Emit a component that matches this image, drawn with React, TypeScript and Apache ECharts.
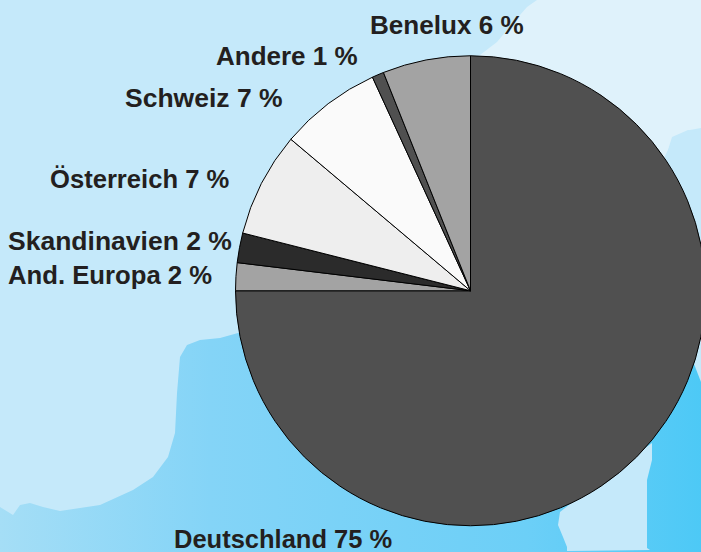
import React, { useEffect, useRef } from "react";
import * as echarts from "echarts";

const categories = ["Deutschland", "And. Europa", "Skandinavien", "Österreich", "Schweiz", "Andere", "Benelux"];
const printedShares = [75, 2, 2, 7, 7, 1, 6];
const shares = [75, 1.91, 2.04, 7.2, 7, 0.81, 6.04];
const sliceColors = ["#505050", "#a3a3a3", "#2b2b2b", "#eeeeee", "#fafafa", "#505050", "#a3a3a3"];
const labelLeft = [174, 8, 8, 50, 125, 216, 370];
const labelMidY = [539, 275, 241, 179, 98, 56, 25];
const labelSizes = [25.5, 25.7, 26.5, 25.6, 26.5, 26, 26.1];

const lightTopRight: number[][] = [[537, 0], [701, 0], [701, 128], [690, 130], [675, 137], [668, 150], [665, 170], [701, 200], [701, 340], [690, 340], [470, 60], [480, 55], [497, 42], [507, 30], [527, 7]];
const blobRight: number[][] = [[665, 156], [668, 150], [672, 137], [688, 130], [701, 132], [701, 350], [660, 300]];
const deepLeft: number[][] = [[238, 333], [220, 338], [200, 340], [187, 345], [180, 357], [177, 393], [175, 433], [168, 457], [153, 477], [133, 490], [100, 505], [60, 511], [43, 507], [30, 503], [20, 505], [13, 515], [0, 507], [0, 552], [701, 552], [701, 360], [470, 300]];
const lightRightBottom: number[][] = [[698, 350], [701, 340], [701, 382], [694, 364]];
const lightBottom: number[][] = [[652, 443], [652, 460], [647, 480], [647, 548], [650, 550], [567, 551], [567, 547], [563, 537], [558, 525], [560, 512], [600, 480]];

export default function App() {
  const ref = useRef<HTMLDivElement>(null);
  useEffect(() => {
    const chart = echarts.init(ref.current!, null, { renderer: "svg" });
    const poly = (points: number[][], fill: any, z = 0) => ({ type: "polygon", z, silent: true, shape: { points }, style: { fill } });
    chart.setOption({
      animation: false,
      backgroundColor: "#c5e9fa",
      graphic: {
        elements: [
          poly(lightTopRight, "#dff2fb"),
          poly(blobRight, "#c5e9fa", 1),
          poly(deepLeft, new echarts.graphic.LinearGradient(0, 0, 1, 0, [
            { offset: 0, color: "#a5def6" },
            { offset: 0.3, color: "#84d4f7" },
            { offset: 0.75, color: "#6ccff7" },
            { offset: 1, color: "#4dc9f6" },
          ]), 1),
          poly(lightRightBottom, "#c5e9fa", 2),
          poly(lightBottom, "#c5e9fa", 2),
        ],
      },
      series: [{
        type: "pie",
        z: 5,
        center: [470.5, 290.75],
        radius: [0, 235],
        startAngle: 90,
        clockwise: true,
        avoidLabelOverlap: false,
        minShowLabelAngle: 0,
        data: categories.map((name, i) => ({
          name,
          value: shares[i],
          itemStyle: { color: sliceColors[i] },
          label: { fontSize: labelSizes[i] },
        })),
        itemStyle: { borderColor: "#000000", borderWidth: 1 },
        emphasis: { disabled: true },
        labelLine: { show: false },
        label: {
          show: true,
          position: "outside",
          overflow: "none",
          formatter: (p: any) => `${p.name} ${printedShares[p.dataIndex]} %`,
          fontFamily: "Liberation Sans",
          fontWeight: "bold",
          lineHeight: 22,
          color: "#231f20",
        },
        labelLayout: (p: any) => ({
          x: labelLeft[p.dataIndex],
          y: labelMidY[p.dataIndex],
          align: "left",
          verticalAlign: "middle",
          hideOverlap: false,
        }),
      }],
    });
    return () => chart.dispose();
  }, []);
  return <div ref={ref} style={{ position: "fixed", left: 0, top: 0, width: 701, height: 552 }} />;
}
